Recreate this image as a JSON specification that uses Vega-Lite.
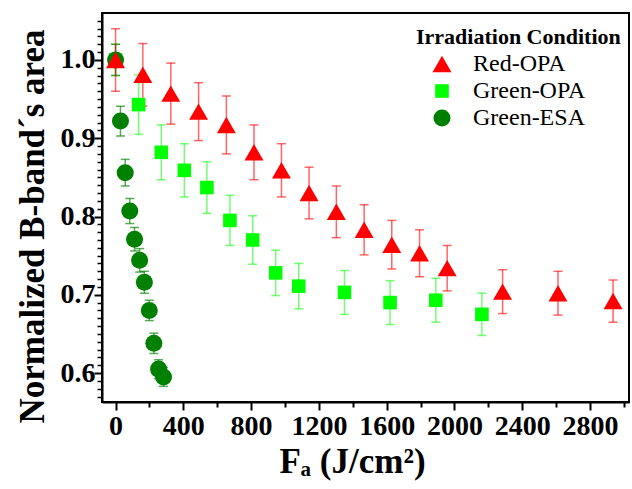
{
  "$schema": "https://vega.github.io/schema/vega-lite/v6.json",
  "autosize": "none",
  "width": 527,
  "height": 389,
  "padding": {"left": 102, "top": 13, "right": 3, "bottom": 87},
  "background": "white",
  "config": {
    "view": {"stroke": "black", "strokeWidth": 2},
    "font": "Liberation Serif",
    "axis": {"grid": false, "domainColor": "black", "domainWidth": 2, "tickColor": "black", "tickWidth": 2, "labelColor": "black", "titleColor": "black", "labelFont": "Liberation Serif", "titleFont": "Liberation Serif"},
    "legend": {"labelFont": "Liberation Serif", "titleFont": "Liberation Serif"}
  },
  "data": {
    "values": [
      {"condition": "Green-OPA", "f": 0, "area": 1.000, "lo": 0.980, "hi": 1.020},
      {"condition": "Green-OPA", "f": 136, "area": 0.943, "lo": 0.905, "hi": 0.981},
      {"condition": "Green-OPA", "f": 270, "area": 0.882, "lo": 0.847, "hi": 0.917},
      {"condition": "Green-OPA", "f": 406, "area": 0.859, "lo": 0.825, "hi": 0.893},
      {"condition": "Green-OPA", "f": 539, "area": 0.837, "lo": 0.804, "hi": 0.870},
      {"condition": "Green-OPA", "f": 675, "area": 0.795, "lo": 0.763, "hi": 0.827},
      {"condition": "Green-OPA", "f": 809, "area": 0.770, "lo": 0.739, "hi": 0.801},
      {"condition": "Green-OPA", "f": 945, "area": 0.728, "lo": 0.699, "hi": 0.757},
      {"condition": "Green-OPA", "f": 1081, "area": 0.711, "lo": 0.682, "hi": 0.740},
      {"condition": "Green-OPA", "f": 1351, "area": 0.703, "lo": 0.675, "hi": 0.731},
      {"condition": "Green-OPA", "f": 1620, "area": 0.690, "lo": 0.662, "hi": 0.718},
      {"condition": "Green-OPA", "f": 1890, "area": 0.693, "lo": 0.665, "hi": 0.721},
      {"condition": "Green-OPA", "f": 2162, "area": 0.675, "lo": 0.648, "hi": 0.702},
      {"condition": "Green-ESA", "f": 0, "area": 1.000, "lo": 0.980, "hi": 1.020},
      {"condition": "Green-ESA", "f": 29, "area": 0.922, "lo": 0.903, "hi": 0.941},
      {"condition": "Green-ESA", "f": 57, "area": 0.856, "lo": 0.839, "hi": 0.873},
      {"condition": "Green-ESA", "f": 84, "area": 0.807, "lo": 0.791, "hi": 0.823},
      {"condition": "Green-ESA", "f": 112, "area": 0.771, "lo": 0.756, "hi": 0.786},
      {"condition": "Green-ESA", "f": 142, "area": 0.744, "lo": 0.729, "hi": 0.759},
      {"condition": "Green-ESA", "f": 170, "area": 0.716, "lo": 0.702, "hi": 0.730},
      {"condition": "Green-ESA", "f": 199, "area": 0.680, "lo": 0.667, "hi": 0.693},
      {"condition": "Green-ESA", "f": 226, "area": 0.638, "lo": 0.625, "hi": 0.651},
      {"condition": "Green-ESA", "f": 254, "area": 0.605, "lo": 0.593, "hi": 0.617},
      {"condition": "Green-ESA", "f": 283, "area": 0.595, "lo": 0.583, "hi": 0.607},
      {"condition": "Red-OPA", "f": 0, "area": 1.000, "lo": 0.960, "hi": 1.040},
      {"condition": "Red-OPA", "f": 161, "area": 0.981, "lo": 0.941, "hi": 1.021},
      {"condition": "Red-OPA", "f": 326, "area": 0.957, "lo": 0.918, "hi": 0.996},
      {"condition": "Red-OPA", "f": 490, "area": 0.934, "lo": 0.897, "hi": 0.971},
      {"condition": "Red-OPA", "f": 654, "area": 0.917, "lo": 0.880, "hi": 0.954},
      {"condition": "Red-OPA", "f": 817, "area": 0.882, "lo": 0.847, "hi": 0.917},
      {"condition": "Red-OPA", "f": 979, "area": 0.859, "lo": 0.825, "hi": 0.893},
      {"condition": "Red-OPA", "f": 1142, "area": 0.830, "lo": 0.797, "hi": 0.863},
      {"condition": "Red-OPA", "f": 1303, "area": 0.806, "lo": 0.773, "hi": 0.839},
      {"condition": "Red-OPA", "f": 1467, "area": 0.783, "lo": 0.751, "hi": 0.815},
      {"condition": "Red-OPA", "f": 1630, "area": 0.764, "lo": 0.733, "hi": 0.795},
      {"condition": "Red-OPA", "f": 1794, "area": 0.753, "lo": 0.723, "hi": 0.783},
      {"condition": "Red-OPA", "f": 1957, "area": 0.734, "lo": 0.705, "hi": 0.763},
      {"condition": "Red-OPA", "f": 2284, "area": 0.704, "lo": 0.676, "hi": 0.732},
      {"condition": "Red-OPA", "f": 2611, "area": 0.702, "lo": 0.674, "hi": 0.730},
      {"condition": "Red-OPA", "f": 2936, "area": 0.692, "lo": 0.665, "hi": 0.719}
    ]
  },
  "layer": [
    {
      "mark": {"type": "point", "opacity": 0},
      "encoding": {
        "x": {"field": "f", "type": "quantitative",
              "scale": {"domain": [-80, 3030], "nice": false, "zero": false},
              "axis": {"orient": "bottom", "values": [200, 600, 1000, 1400, 1800, 2200, 2600, 3000], "labels": false, "domain": false, "tickSize": 5, "title": null}},
        "y": {"field": "area", "type": "quantitative",
              "scale": {"domain": [0.563, 1.06], "nice": false, "zero": false},
              "axis": {"orient": "left", "values": [0.57,0.58,0.59,0.61,0.62,0.63,0.64,0.65,0.66,0.67,0.68,0.69,0.71,0.72,0.73,0.74,0.75,0.76,0.77,0.78,0.79,0.81,0.82,0.83,0.84,0.85,0.86,0.87,0.88,0.89,0.91,0.92,0.93,0.94,0.95,0.96,0.97,0.98,0.99,1.01,1.02,1.03,1.04,1.05], "labels": false, "domain": false, "tickSize": 5, "tickWidth": 1.5, "title": null}}
      }
    },
    {
      "transform": [{"filter": "datum.condition === 'Green-OPA'"}],
      "mark": {"type": "errorbar", "color": "#00FF00", "ticks": {"size": 9, "thickness": 1.5, "opacity": 0.55}, "rule": {"strokeWidth": 1.5, "opacity": 0.55}},
      "encoding": {
        "x": {"field": "f", "type": "quantitative", "axis": null},
        "y": {"field": "lo", "type": "quantitative", "axis": null},
        "y2": {"field": "hi"}
      }
    },
    {
      "transform": [{"filter": "datum.condition === 'Green-ESA'"}],
      "mark": {"type": "errorbar", "color": "#008000", "ticks": {"size": 9, "thickness": 1.5, "opacity": 0.65}, "rule": {"strokeWidth": 1.5, "opacity": 0.65}},
      "encoding": {
        "x": {"field": "f", "type": "quantitative", "axis": null},
        "y": {"field": "lo", "type": "quantitative", "axis": null},
        "y2": {"field": "hi"}
      }
    },
    {
      "transform": [{"filter": "datum.condition === 'Red-OPA'"}],
      "mark": {"type": "errorbar", "color": "#FF0000", "ticks": {"size": 9, "thickness": 1.5, "opacity": 0.6}, "rule": {"strokeWidth": 1.5, "opacity": 0.6}},
      "encoding": {
        "x": {"field": "f", "type": "quantitative", "axis": null},
        "y": {"field": "lo", "type": "quantitative", "axis": null},
        "y2": {"field": "hi"}
      }
    },
    {
      "mark": {"type": "point", "filled": true, "opacity": 1, "strokeWidth": 0},
      "encoding": {
        "x": {"field": "f", "type": "quantitative",
              "axis": {"orient": "bottom", "values": [0, 400, 800, 1200, 1600, 2000, 2400, 2800], "format": "d", "tickSize": 8, "labelFontSize": 28, "labelFontWeight": "bold", "labelPadding": 2,
                       "title": "Fₐ (J/cm²)", "titleFontSize": 35, "titleFontWeight": "bold", "titleX": 250, "titleY": 70, "titleBaseline": "alphabetic"}},
        "y": {"field": "area", "type": "quantitative",
              "axis": {"orient": "left", "values": [0.6, 0.7, 0.8, 0.9, 1.0], "format": ".1f", "tickSize": 8, "labelFontSize": 28, "labelFontWeight": "bold", "labelPadding": -1,
                       "title": "Normalized B-band´s area", "titleFontSize": 35, "titleFontWeight": "bold", "titleX": -59, "titleY": 213, "titleAngle": -90, "titleAlign": "center", "titleBaseline": "alphabetic"}},
        "color": {"field": "condition", "type": "nominal", "title": "Irradiation Condition",
                  "scale": {"domain": ["Red-OPA", "Green-OPA", "Green-ESA"], "range": ["#FF0000", "#00FF00", "#008000"]},
                  "legend": {"orient": "none", "legendX": 314, "legendY": 14, "titleFontSize": 22, "titleFontWeight": "bold", "titleFont": "Liberation Serif", "titleColor": "black", "titleLimit": 400,
                             "labelFontSize": 24, "labelFont": "Liberation Serif", "labelFontWeight": "normal", "labelColor": "black", "labelLimit": 300, "symbolOffset": 14, "labelOffset": 19, "rowPadding": 3, "titlePadding": 3, "symbolStrokeWidth": 0}},
        "shape": {"field": "condition", "type": "nominal", "title": "Irradiation Condition",
                  "scale": {"domain": ["Red-OPA", "Green-OPA", "Green-ESA"], "range": ["triangle-up", "square", "circle"]}},
        "size": {"field": "condition", "type": "nominal", "title": "Irradiation Condition",
                 "scale": {"type": "ordinal", "domain": ["Red-OPA", "Green-OPA", "Green-ESA"], "range": [360, 185, 290]}}
      }
    }
  ],
  "resolve": {"axis": {"x": "independent", "y": "independent"}}
}
